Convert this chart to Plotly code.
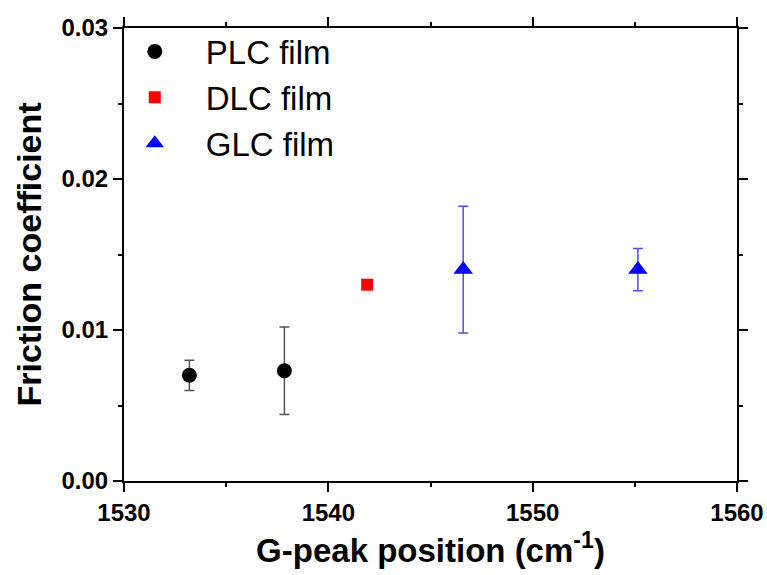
import plotly.graph_objects as go

# G-peak position (cm^-1) and friction coefficient for each film type
plc_x = [1533.2, 1537.85]
plc_y = [0.0070, 0.0073]
plc_err = [0.0010, 0.0029]

dlc_x = [1541.9]
dlc_y = [0.0130]

glc_x = [1546.6, 1555.15]
glc_y = [0.0140, 0.0140]
glc_err = [0.0042, 0.0014]

FONT = "Liberation Sans, Arial, sans-serif"

fig = go.Figure()
fig.add_trace(go.Scatter(
    x=plc_x, y=plc_y, mode="markers", name="PLC film",
    marker=dict(symbol="circle", size=15, color="black"),
    error_y=dict(type="data", array=plc_err, color="#555555", thickness=1.5, width=5),
))
fig.add_trace(go.Scatter(
    x=dlc_x, y=dlc_y, mode="markers", name="DLC film",
    marker=dict(symbol="square", size=12, color="red"),
))
fig.add_trace(go.Scatter(
    x=glc_x, y=glc_y, mode="markers", name="GLC film",
    marker=dict(symbol="triangle-up", size=17, color="blue"),
    error_y=dict(type="data", array=glc_err, color="#4d4dff", thickness=1.5, width=5),
))

axis_common = dict(
    showline=True, linecolor="black", linewidth=2, mirror="allticks",
    ticks="outside", ticklen=9, tickwidth=1.5, tickcolor="black",
    showgrid=False, zeroline=False,
    tickfont=dict(family=FONT, size=24, color="black", weight="bold"),
)

fig.update_xaxes(
    range=[1530, 1560], dtick=10, tick0=1530, automargin=False,
    minor=dict(ticks="outside", ticklen=4, tickwidth=1.5, tickcolor="black", dtick=5),
    title=dict(text="G-peak position (cm<sup>-1</sup>)", standoff=14,
               font=dict(family=FONT, size=33, color="black", weight="bold")),
    **axis_common,
)
fig.update_yaxes(
    range=[0, 0.03], dtick=0.01, tick0=0, tickformat=".2f", automargin=False,
    minor=dict(ticks="outside", ticklen=4, tickwidth=1.5, tickcolor="black", dtick=0.005),
    title=dict(text="Friction coefficient", standoff=10,
               font=dict(family=FONT, size=34, color="black", weight="bold")),
    **axis_common,
)

fig.update_layout(
    width=767, height=575,
    margin=dict(l=124, r=30, t=28, b=94),
    plot_bgcolor="white", paper_bgcolor="white",
    showlegend=True,
    legend=dict(x=-0.033, y=1.01, xanchor="left", yanchor="top",
                bgcolor="rgba(0,0,0,0)",
                font=dict(family=FONT, size=33, color="black"),
                itemwidth=92, tracegroupgap=0),
)

fig.write_html("out.html")
